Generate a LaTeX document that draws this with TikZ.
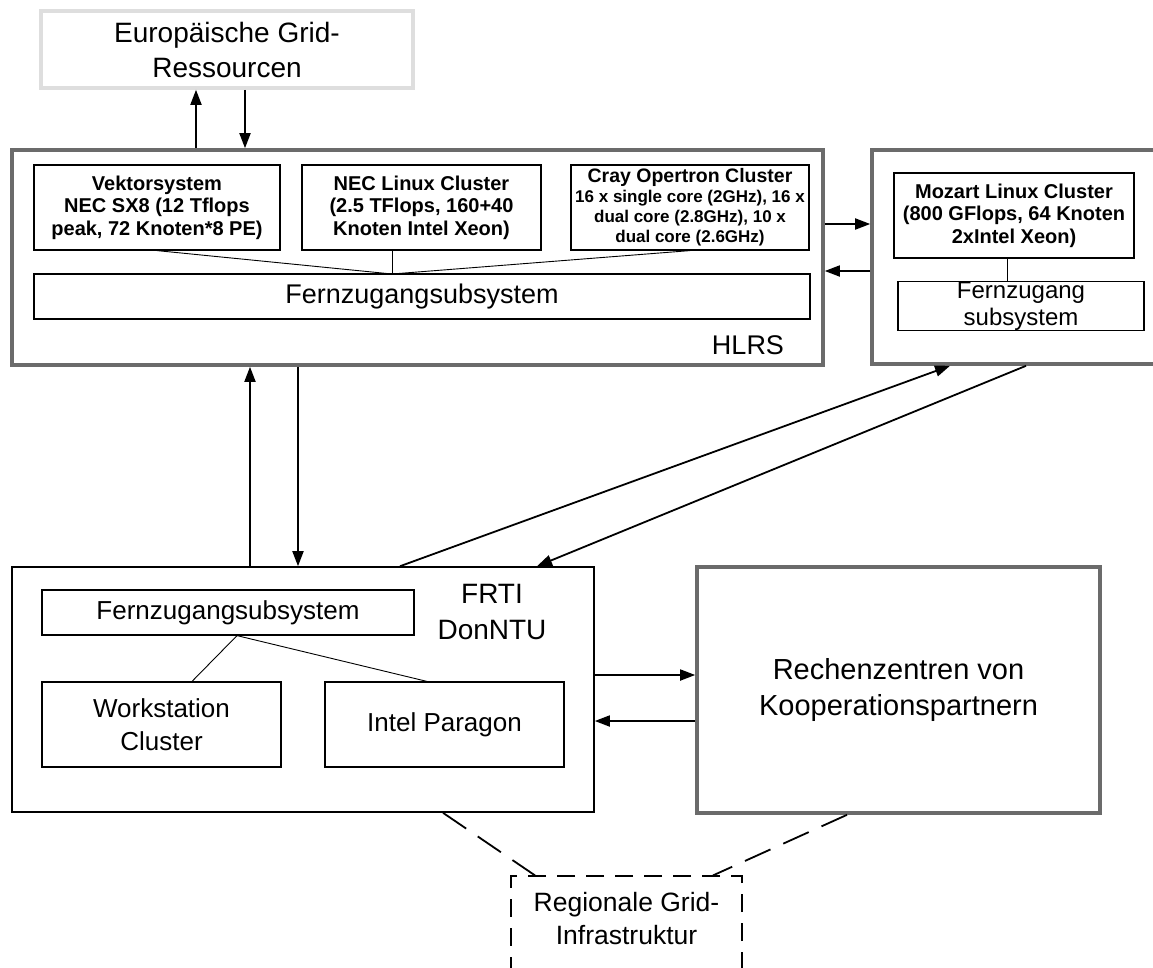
\documentclass[tikz,border=0pt]{standalone}
\usepackage{fontspec}
\setmainfont{Liberation Sans}
\usetikzlibrary{arrows.meta,calc}
\newcommand{\myfs}[2]{\fontsize{#1pt}{#2pt}\selectfont}
\definecolor{heavygray}{HTML}{6B6B6B}
\definecolor{lightgray}{HTML}{DEDEDE}
\begin{document}
\begin{tikzpicture}[x=1pt,y=-1pt,
  thinbox/.style={draw=black, line width=1.2pt, inner sep=0pt, align=center},
  heavybox/.style={draw=heavygray, line width=3.6pt, inner sep=0pt, align=center},
  lightbox/.style={draw=lightgray, line width=3.6pt, inner sep=0pt, align=center},
  outerbox/.style={draw=black, line width=1.6pt, inner sep=0pt},
  dbox/.style={draw=black, line width=1.2pt, inner sep=0pt, dash pattern=on 18pt off 11pt},
  arr/.style={draw=black, line width=1.8pt, -{Triangle[length=15pt,width=11pt]}},
  link/.style={draw=black, line width=0.9pt},
  dline/.style={draw=black, line width=1.8pt, dash pattern=on 28pt off 14pt},
  titlefont/.style={font=\bfseries\myfs{20}{22.5}}
]
\fill[white] (0,0) rectangle (1153,967);
\useasboundingbox (0,0) rectangle (1153,967);

% top resource box
\node[lightbox, minimum width=372pt, minimum height=77pt, font=\myfs{28}{35}] (euro) at (227,49.5) {Europäische Grid-\\Ressourcen};

% HLRS
\node[heavybox, minimum width=811pt, minimum height=215pt] (hlrs) at (417.5,257.5) {};
\node[thinbox, minimum width=246pt, minimum height=85pt, titlefont] (vek) at (157,207.5) {Vektorsystem\\NEC SX8 (12 Tflops\\peak, 72 Knoten*8 PE)};
\node[thinbox, minimum width=239pt, minimum height=85pt, titlefont] (nec) at (421.5,207.5) {NEC Linux Cluster\\(2.5 TFlops, 160+40\\Knoten Intel Xeon)};
\node[thinbox, minimum width=238pt, minimum height=85pt, font=\bfseries\myfs{17}{20}] (cray) at (690,207.5) {{\myfs{19.5}{20}Cray Opertron Cluster}\\16 x single core (2GHz), 16 x\\dual core (2.8GHz), 10 x\\dual core (2.6GHz)};
\node[thinbox, minimum width=776pt, minimum height=45pt, font=\myfs{27}{30}] (fernh) at (422,296.5) {Fernzugangsubsystem};
\node[font=\myfs{27}{30}] (hlrsl) at (748,345) {HLRS};
\coordinate (conv) at (392,274);
\draw[link] (vek.south) -- (conv);
\draw[link] (conv |- nec.south) -- (conv);
\draw[link] (cray.south) -- (conv);

% Mozart
\node[heavybox, minimum width=303pt, minimum height=214pt] (moz) at (1023.5,257) {};
\node[thinbox, minimum width=240pt, minimum height=85pt, titlefont] (mozin) at (1014,215.5) {Mozart Linux Cluster\\(800 GFlops, 64 Knoten\\2xIntel Xeon)};
\node[thinbox, minimum width=246pt, minimum height=46pt, font=\myfs{24}{27}] (mozfern) at (1021,306) {Fernzugang\\subsystem};
\coordinate (mx) at (1007,0);
\draw[link] (mozin.south -| mx) -- (mozfern.north -| mx);

% FRTI
\node[outerbox, minimum width=582pt, minimum height=245pt] (frti) at (303,689.5) {};
\node[thinbox, minimum width=372pt, minimum height=45pt, font=\myfs{26}{30}] (fernf) at (228,612.5) {Fernzugangsubsystem};
\node[thinbox, minimum width=239pt, minimum height=85pt, font=\myfs{26}{33}] (ws) at (161.5,724.5) {Workstation\\Cluster};
\node[thinbox, minimum width=239pt, minimum height=85pt, font=\myfs{26}{33}] (ip) at (444.5,724.5) {Intel Paragon};
\node[font=\myfs{28}{36}, align=center] (frtil) at (492,612) {FRTI\\DonNTU};
\coordinate (fj) at (237,0);
\coordinate (wsx) at (192,0);
\coordinate (ipx) at (427,0);
\draw[link] (fernf.south -| fj) -- (ws.north -| wsx);
\draw[link] (fernf.south -| fj) -- (ip.north -| ipx);

% Rechenzentren
\node[heavybox, minimum width=403pt, minimum height=246pt, font=\myfs{29}{36}] (rech) at (898.5,690) {Rechenzentren von\\Kooperationspartnern};

% Regional grid
\node[dbox, minimum width=231pt, minimum height=124pt] (reg) at (626.5,938) {};
\node[font=\myfs{26.5}{33}, align=center] (regt) at (626.5,919) {Regionale Grid-\\Infrastruktur};

% arrows Euro <-> HLRS
\coordinate (xa) at (196,0);
\coordinate (xb) at (245,0);
\draw[arr] (hlrs.north -| xa) -- (euro.south -| xa);
\draw[arr] (euro.south -| xb) -- (hlrs.north -| xb);

% arrows HLRS <-> Mozart
\coordinate (ya) at (0,224);
\coordinate (yb) at (0,271);
\draw[arr] (hlrs.east |- ya) -- (moz.west |- ya);
\draw[arr] (moz.west |- yb) -- (hlrs.east |- yb);

% arrows HLRS <-> FRTI
\coordinate (xc) at (250,0);
\coordinate (xd) at (298,0);
\draw[arr] (frti.north -| xc) -- (hlrs.south -| xc);
\draw[arr] (hlrs.south -| xd) -- (frti.north -| xd);

% diagonal arrows FRTI <-> Mozart
\coordinate (p1) at (400,0);
\coordinate (p2) at (950,0);
\coordinate (p3) at (1026,0);
\coordinate (p4) at (537,0);
\draw[arr] (frti.north -| p1) -- (moz.south -| p2);
\draw[arr] (moz.south -| p3) -- (frti.north -| p4);

% arrows FRTI <-> Rechenzentren
\coordinate (yc) at (0,675);
\coordinate (yd) at (0,721);
\draw[arr] (frti.east |- yc) -- (rech.west |- yc);
\draw[arr] (rech.west |- yd) -- (frti.east |- yd);

% dashed links to regional grid
\coordinate (q1) at (443,0);
\coordinate (q2) at (535,0);
\coordinate (q3) at (847,0);
\coordinate (q4) at (713,0);
\draw[dline] (frti.south -| q1) -- (reg.north -| q2);
\draw[dline] (rech.south -| q3) -- (reg.north -| q4);
\end{tikzpicture}
\end{document}
